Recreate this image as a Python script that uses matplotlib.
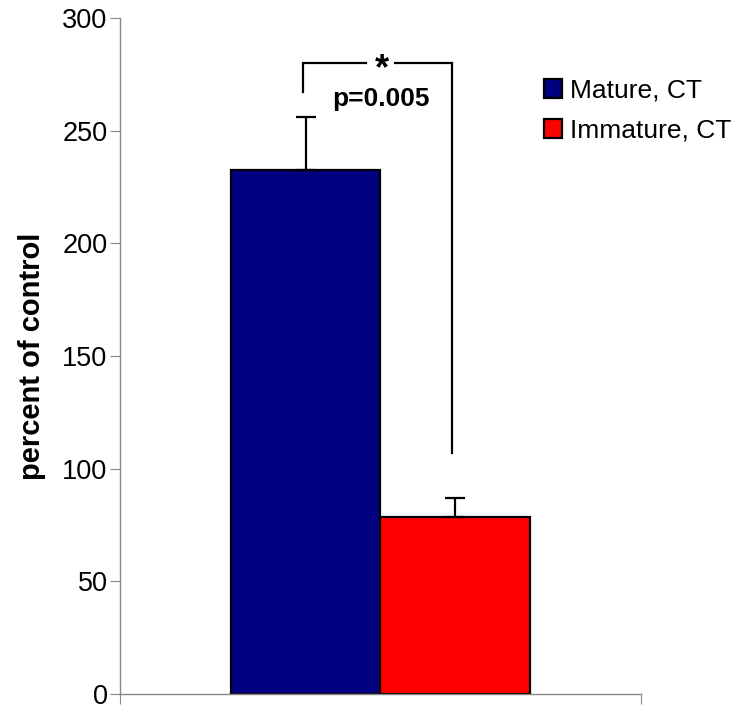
import matplotlib
matplotlib.use("Agg")
import matplotlib.pyplot as plt
from matplotlib.patches import Patch

plt.rcParams['font.family'] = ['Liberation Sans', 'DejaVu Sans']

groups = ['Mature, CT', 'Immature, CT']
values = [232.5, 78.5]
errors = [23.5, 8.5]
colors = ['#000080', '#ff0000']
bracket = [267, 280, 107]  # left end, top, right end (data units)

fig = plt.figure(figsize=(7.36, 7.06), dpi=100)
ax = fig.add_axes([120/736, 12/706, 521/736, 676/706])

xpos = [-0.5, 0.5]
ax.bar(xpos, values, width=1.0, color=colors, edgecolor='black', linewidth=1.6, zorder=2)
ax.errorbar(xpos, values, yerr=[[0, 0], errors], fmt='none', ecolor='black',
            elinewidth=1.6, capsize=7.5, capthick=1.6, zorder=3)

# significance bracket, with a gap for the star
xl, xr, gap = xpos[0] - 0.02, xpos[1] - 0.02, 0.1
ax.plot([xl, xl, -gap], [bracket[0], bracket[1], bracket[1]], color='black', lw=1.6,
        solid_joinstyle='miter', zorder=3)
ax.plot([gap, xr, xr], [bracket[1], bracket[1], bracket[2]], color='black', lw=1.6,
        solid_joinstyle='miter', zorder=3)
ax.text(0.01, bracket[1] - 3, '*', ha='center', va='center', fontsize=26, fontweight='bold')
ax.text(0.0, 264, 'p=0.005', ha='center', va='center', fontsize=19, fontweight='bold')

ax.set_xlim(-1.74, 1.74)
ax.set_ylim(0, 300)
ax.set_yticks(range(0, 301, 50))
ax.set_xticks([-1.74, 1.74])
ax.set_xticklabels([])
ax.tick_params(axis='y', labelsize=19.5, direction='out', length=7, color='#888888', pad=2)
ax.tick_params(axis='x', direction='out', length=7, color='#888888')
for s in ['top', 'right']:
    ax.spines[s].set_visible(False)
for s in ['left', 'bottom']:
    ax.spines[s].set_color('#888888')
    ax.spines[s].set_linewidth(1.0)

ax.set_ylabel('percent of control', fontsize=21, fontweight='bold', labelpad=12)

handles = [Patch(facecolor=c, edgecolor='black', linewidth=1.6, label=g) for c, g in zip(colors, groups)]
fig.legend(handles=handles, loc='upper left', bbox_to_anchor=(520/736, 1 - 55/706),
           frameon=False, fontsize=19, handlelength=0.7, handleheight=0.7,
           handletextpad=0.3, labelspacing=0.6)

fig.savefig('out.png', dpi=100)
